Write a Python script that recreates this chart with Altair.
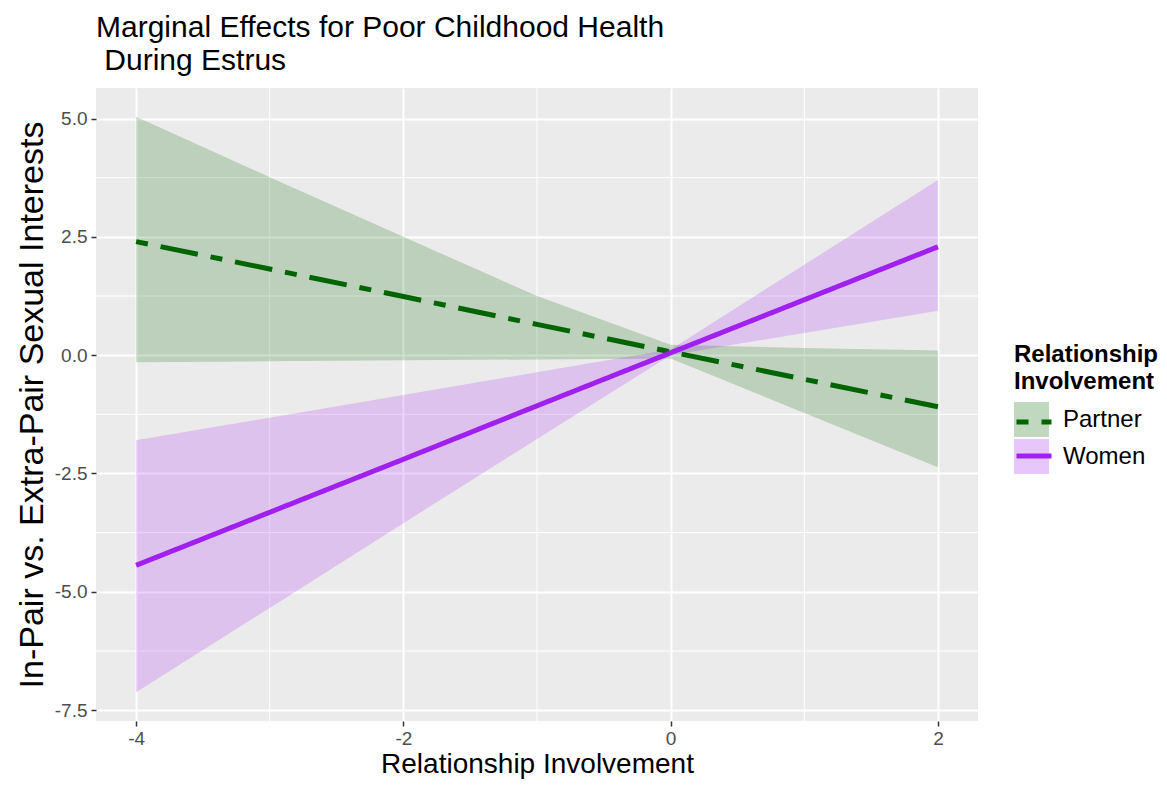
import altair as alt
import pandas as pd

# ---- data ----
groups = ["Partner", "Women"]
x_vals = [-4, -3, -2, -1, 0, 1, 2]
partner_fit = [2.40, 1.82, 1.24, 0.65, 0.07, -0.51, -1.09]
partner_lo = [-0.15, -0.13, -0.11, -0.09, -0.07, -1.22, -2.37]
partner_hi = [5.04, 3.76, 2.50, 1.25, 0.22, 0.15, 0.10]
women_fit = [-4.44, -3.32, -2.20, -1.07, 0.05, 1.17, 2.29]
women_lo = [-7.12, -5.34, -3.55, -1.77, 0.00, 0.47, 0.94]
women_hi = [-1.80, -1.32, -0.84, -0.36, 0.12, 1.91, 3.70]

x_major = [-4, -2, 0, 2]
x_minor = [-3, -1, 1]
y_major = [-7.5, -5.0, -2.5, 0.0, 2.5, 5.0]
y_minor = [-6.25, -3.75, -1.25, 1.25, 3.75]

rows = []
for i, xv in enumerate(x_vals):
    rows.append({"x": xv, "group": "Partner", "fit": partner_fit[i],
                 "lo": partner_lo[i], "hi": partner_hi[i]})
for i, xv in enumerate(x_vals):
    rows.append({"x": xv, "group": "Women", "fit": women_fit[i],
                 "lo": women_lo[i], "hi": women_hi[i]})
df = pd.DataFrame(rows)

FONT = "Liberation Sans"
colors = ["#006400", "#A020F0"]

xscale = alt.Scale(domain=[-4.3, 2.3], nice=False, zero=False)
yscale = alt.Scale(domain=[-7.73, 5.645], nice=False, zero=False)

xaxis = alt.Axis(
    values=x_major, title="Relationship Involvement",
    labelExpr="replace(format(datum.value, 'd'), '\u2212', '-')",
    titleFontSize=28, titlePadding=2, labelFontSize=19, labelPadding=3,
)
yaxis = alt.Axis(
    values=y_major, title="In-Pair vs. Extra-Pair Sexual Interests",
    labelExpr="replace(format(datum.value, '.1f'), '\u2212', '-')",
    titleFontSize=34, titlePadding=5, labelFontSize=19, labelPadding=4,
)

LEG_X = 918
LEG_Y = 255
leg_common = dict(
    orient="none", legendX=LEG_X, legendY=LEG_Y,
    title=["Relationship", "Involvement"],
    titleFontSize=24, titleFontWeight="bold", titleColor="black", titleFont=FONT,
    titleLineHeight=27, titlePadding=8,
    labelFontSize=24, labelColor="black", labelFont=FONT, labelOffset=14,
    symbolSize=1225, rowPadding=2, padding=0,
)

fill_legend = alt.Legend(symbolType="square", symbolOpacity=0.25,
                         symbolStrokeWidth=0, **leg_common)
stroke_legend = alt.Legend(symbolType="stroke", symbolStrokeWidth=5,
                           titleOpacity=0, labelExpr="''", **leg_common)

minor_x = alt.Chart(pd.DataFrame({"v": x_minor})).mark_rule(
    color="white", strokeWidth=1).encode(x=alt.X("v:Q", scale=xscale, axis=xaxis))
minor_y = alt.Chart(pd.DataFrame({"v": y_minor})).mark_rule(
    color="white", strokeWidth=1).encode(y=alt.Y("v:Q", scale=yscale, axis=yaxis))

ribbons = alt.Chart(df).mark_area(opacity=0.2).encode(
    x=alt.X("x:Q", scale=xscale, axis=xaxis),
    y=alt.Y("lo:Q", scale=yscale, axis=yaxis, stack=None),
    y2="hi:Q",
    # explicit domain here (data-driven for the line legend) keeps the two legends apart
    fill=alt.Fill("group:N", scale=alt.Scale(domain=groups, range=colors),
                  legend=fill_legend),
)

lines = alt.Chart(df).mark_line(strokeWidth=5).encode(
    x=alt.X("x:Q", scale=xscale, axis=xaxis),
    y=alt.Y("fit:Q", scale=yscale, axis=yaxis),
    stroke=alt.Stroke("group:N", scale=alt.Scale(range=colors),
                      legend=stroke_legend),
    strokeDash=alt.StrokeDash("group:N",
                              scale=alt.Scale(range=[[12, 13, 38, 13], [1, 0]]),
                              legend=stroke_legend),
)

chart = alt.layer(minor_x, minor_y, ribbons, lines).properties(
    width=882, height=633,
    autosize=alt.AutoSizeParams(type="none"),
    padding={"left": 88, "top": 80, "right": 181, "bottom": 60},
    background="white",
    title=alt.TitleParams(
        text=["Marginal Effects for Poor Childhood Health", "\u200b\u00a0During Estrus"],
        anchor="start", frame="group", fontSize=30, fontWeight="normal",
        font=FONT, color="black", lineHeight=33, offset=12,
    ),
).configure_view(
    fill="#EBEBEB", stroke=None,
).configure_axis(
    gridColor="white", gridWidth=2, domain=False,
    tickColor="#333333", tickSize=5, tickWidth=1.5,
    labelColor="#4D4D4D", labelFont=FONT, titleFont=FONT,
    titleColor="black", titleFontWeight="normal",
)

chart.save("out.html", embed_options={"renderer": "svg", "actions": False})
